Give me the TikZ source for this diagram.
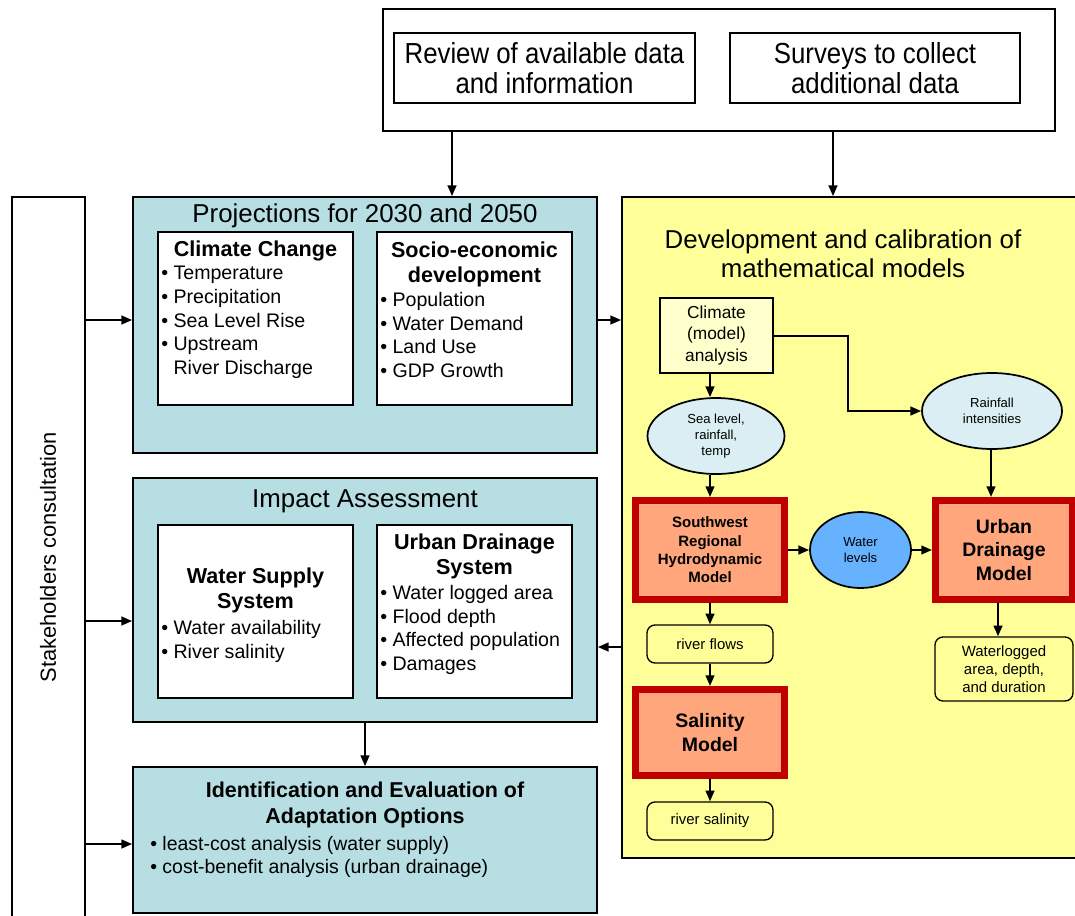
\documentclass[tikz,border=0pt]{standalone}
\usepackage{fontspec}
\setmainfont{Liberation Sans}
\newfontfamily\narrowfont[FakeStretch=0.89]{Liberation Sans}
\usetikzlibrary{arrows.meta,shapes.geometric}
\definecolor{cTeal}{RGB}{183,222,226}
\definecolor{cYel}{RGB}{255,255,153}
\definecolor{cLYel}{RGB}{255,255,204}
\definecolor{cEll}{RGB}{218,238,243}
\definecolor{cBlue}{RGB}{102,178,255}
\definecolor{cSal}{RGB}{255,166,124}
\definecolor{cRed}{RGB}{192,0,0}
\newcommand\fs[2]{\fontsize{#1pt}{#2pt}\selectfont}
\def\u{0.75pt}
\begin{document}
\begin{tikzpicture}[x=0.75pt,y=-0.75pt,
  every node/.style={inner sep=0pt},
  bx/.style 2 args={draw, line width=1.3pt, minimum width=#1*\u, minimum height=#2*\u, inner sep=0pt, align=center},
  ell/.style 2 args={ellipse, draw, line width=1.3pt, minimum width=#1*\u, minimum height=#2*\u, inner sep=0pt, align=center, fill=cEll},
  rbox/.style 2 args={draw=cRed, line width=5.25pt, fill=cSal, minimum width=#1*\u, minimum height=#2*\u, inner sep=0pt, align=center},
  rnd/.style 2 args={draw, line width=1pt, rounded corners=6pt, fill=cYel, minimum width=#1*\u, minimum height=#2*\u, inner sep=0pt, align=center},
  arr/.style={-{Triangle[length=8pt,width=6.5pt]}, line width=1.5pt},
  bul/.style={anchor=north west, align=left, font=\fs{14.7}{17.8}},
  btitle/.style={align=center, font=\bfseries\fs{16.2}{18.75}},
  htitle/.style={font=\fs{19.4}{21.75}, align=center}
]
\useasboundingbox (0,0) rectangle (1075,915);
\clip (0,0) rectangle (1075,915);
\fill[white] (0,0) rectangle (1075,915);

% top block
\node[bx={672}{122}, fill=white] (top) at (719,70) {};
\node[bx={301}{70}, font=\narrowfont\fs{21.75}{22.5}] (rev) at (544.5,68) {Review of available data\\and information};
\node[bx={290}{70}, font=\narrowfont\fs{21.75}{22.5}] (sur) at (875,68) {Surveys to collect\\additional data};

% stakeholders
\node[bx={73}{760}, fill=white] (stake) at (48.5,577) {};
\node[rotate=90, font=\fs{16.4}{19}] (staketxt) at (48,557) {Stakeholders consultation};

% projections
\node[bx={464}{256}, fill=cTeal] (proj) at (365,325) {};
\node[htitle, anchor=base] (projt) at (365,222) {Projections for 2030 and 2050};
\node[bx={195}{173}, fill=white] (cc) at (255.5,318.5) {};
\node[btitle, anchor=base] (cct) at (255.5,256) {Climate Change};
\node[bul] (ccl) at (161,266) {\textbullet\ Temperature\\\textbullet\ Precipitation\\\textbullet\ Sea Level Rise\\\textbullet\ Upstream\\\phantom{\textbullet\ }River Discharge};
\node[bx={195}{173}, fill=white] (se) at (474.5,318.5) {};
\node[btitle, anchor=north] (set) at (474.5,242) {Socio-economic\\development};
\node[bul] (sel) at (380,292) {\textbullet\ Population\\\textbullet\ Water Demand\\\textbullet\ Land Use\\\textbullet\ GDP Growth};

% impact
\node[bx={464}{244}, fill=cTeal] (imp) at (365,600) {};
\node[htitle, anchor=base] (impt) at (365,507) {Impact Assessment};
\node[bx={195}{173}, fill=white] (ws) at (255.5,611.5) {};
\node[btitle, anchor=north] (wst) at (255.5,568) {Water Supply\\System};
\node[bul] (wsl) at (161,620) {\textbullet\ Water availability\\\textbullet\ River salinity};
\node[bx={195}{173}, fill=white] (uds) at (474.5,611.5) {};
\node[btitle, anchor=north] (udst) at (474.5,534) {Urban Drainage\\System};
\node[bul] (udsl) at (380,585) {\textbullet\ Water logged area\\\textbullet\ Flood depth\\\textbullet\ Affected population\\\textbullet\ Damages};

% identification
\node[bx={464}{146}, fill=cTeal] (ide) at (365,840) {};
\node[anchor=north, align=center, font=\bfseries\fs{16.1}{19.5}] (idet) at (365,782) {Identification and Evaluation of\\Adaptation Options};
\node[anchor=north west, align=left, font=\fs{14.6}{17.5}] (idel) at (150,836) {\textbullet\ least-cost analysis (water supply)\\\textbullet\ cost-benefit analysis (urban drainage)};

% models panel
\node[bx={470}{661}, fill=cYel] (yel) at (857,527.5) {};
\node[htitle, anchor=north] (yelt) at (843,229.7) {Development and calibration of\\mathematical models};
\node[bx={113}{75}, fill=cLYel, font=\fs{13}{16}] (clim) at (716.5,335.5) {Climate\\(model)\\analysis};
\node[ell={137}{76}, font=\fs{9.8}{11.9}] (sea) at (716,436) {Sea level,\\rainfall,\\temp};
\node[ell={140}{76}, font=\fs{9.8}{11.9}] (rain) at (992,411) {Rainfall\\intensities};
\node[rbox={149}{99}, font=\bfseries\fs{11.25}{13.7}] (sw) at (710,550) {Southwest\\Regional\\Hydrodynamic\\Model};
\node[ell={101}{76}, fill=cBlue, font=\fs{9.8}{11.9}] (wl) at (860.5,550) {Water\\levels};
\node[rbox={137}{99}, font=\bfseries\fs{14.6}{17.5}] (udm) at (1004,550) {Urban\\Drainage\\Model};
\node[rnd={138}{64}, font=\fs{11.25}{13.7}] (wlog) at (1004,669) {Waterlogged\\area, depth,\\and duration};
\node[rnd={126}{38}, font=\fs{11.2}{13}] (rf) at (710,644) {river flows};
\node[rbox={149}{86}, font=\bfseries\fs{14.6}{17.5}] (sal) at (710,732.5) {Salinity\\Model};
\node[rnd={126}{38}, font=\fs{11.2}{13}] (rs) at (710,821) {river salinity};

% helper coordinates
\coordinate (x452) at (452,0);
\coordinate (x833) at (833,0);
\coordinate (x710) at (710,0);
\coordinate (x991) at (991,0);
\coordinate (x998) at (998,0);
\coordinate (y320) at (0,320);
\coordinate (y621) at (0,621);
\coordinate (y844) at (0,844);
\coordinate (y647) at (0,647);
\coordinate (e1) at (848,336);

% connectors
\draw[arr] (top.south -| x452) -- (proj.north -| x452);
\draw[arr] (top.south -| x833) -- (yel.north -| x833);
\draw[arr] (stake.east |- y320) -- (proj.west |- y320);
\draw[arr] (stake.east |- y621) -- (imp.west |- y621);
\draw[arr] (stake.east |- y844) -- (ide.west |- y844);
\draw[arr] (proj.east |- y320) -- (yel.west |- y320);
\draw[arr] (yel.west |- y647) -- (imp.east |- y647);
\draw[arr] (imp.south) -- (ide.north);
\draw[arr] (clim.south -| x710) -- (sea.north -| x710);
\draw[arr] (clim.east |- e1) -- (e1) |- (rain.west);
\draw[arr] (sea.south -| x710) -- (sw.north -| x710);
\draw[arr] (rain.south -| x991) -- (udm.north -| x991);
\draw[arr] (sw.east) -- (wl.west);
\draw[arr] (wl.east) -- (udm.west);
\draw[arr] (udm.south -| x998) -- (wlog.north -| x998);
\draw[arr] (sw.south) -- (rf.north);
\draw[arr] (rf.south) -- (sal.north);
\draw[arr] (sal.south) -- (rs.north);
\end{tikzpicture}
\end{document}
